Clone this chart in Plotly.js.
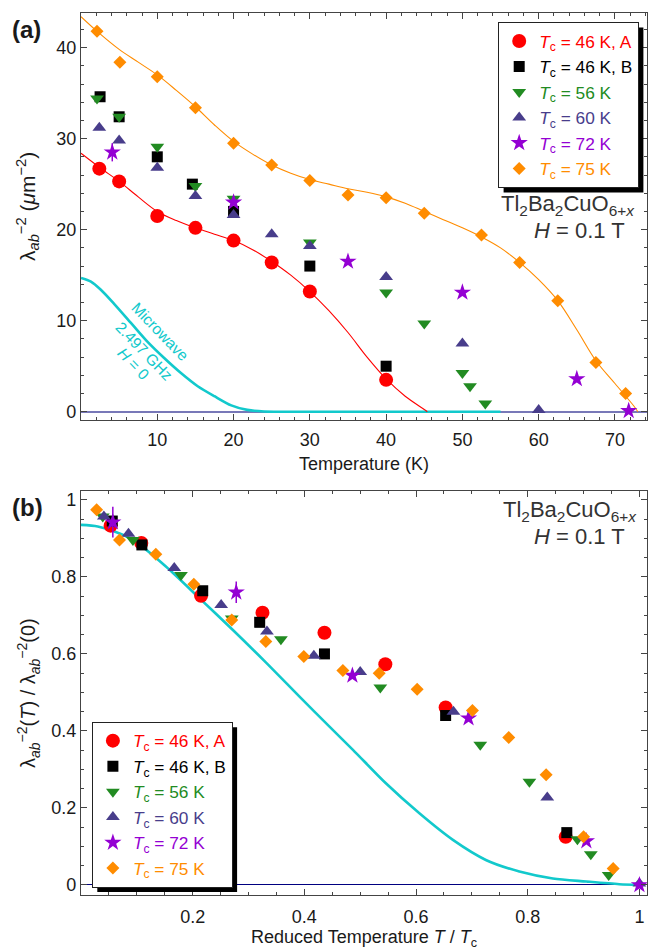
<!DOCTYPE html>
<html>
<head>
<meta charset="utf-8">
<script src="https://cdn.plot.ly/plotly-3.0.1.min.js"></script>
<style>html,body{margin:0;padding:0;background:#fff}#chart{width:648px;height:950px}</style>
</head>
<body>
<div id="chart"></div>
<script>
// ---------------- DATA: panel (a)  lambda^-2 (um^-2) vs T (K) ----------------
const seriesNames = ["T_c = 46 K, A", "T_c = 46 K, B", "T_c = 56 K", "T_c = 60 K", "T_c = 72 K", "T_c = 75 K"];
const A_T_46A = [2.4, 5, 10, 15, 20, 25, 30, 40];
const A_L_46A = [26.7, 25.3, 21.5, 20.2, 18.8, 16.4, 13.2, 3.5];
const A_T_46B = [2.5, 5, 10, 14.6, 20, 30, 40];
const A_L_46B = [34.6, 32.4, 28.0, 25.0, 22.0, 16.0, 5.0];
const A_T_56 = [2.1, 5, 10, 15, 20, 30, 40, 45, 50, 51, 53];
const A_L_56 = [34.4, 32.4, 29.1, 24.8, 23.4, 18.6, 13.1, 9.7, 4.25, 2.8, 0.9];
const A_T_60 = [2.4, 5, 10, 15, 20, 25, 30, 40, 50, 60];
const A_L_60 = [31.2, 29.8, 26.8, 23.7, 21.6, 19.5, 18.2, 14.8, 7.5, 0.2];
const A_T_72 = [4.1, 20, 35, 50, 65, 71.8];
const A_L_72 = [28.5, 23.0, 16.5, 13.1, 3.6, 0.1];
const A_E_72 = [1.0, 0, 0, 0, 0, 0];
const A_T_75 = [2.1, 5.1, 10, 15, 20, 25, 30, 35, 40, 45, 52.5, 57.5, 62.5, 67.5, 71.4];
const A_L_75 = [41.8, 38.4, 36.8, 33.4, 29.5, 27.1, 25.4, 23.8, 23.5, 21.8, 19.4, 16.4, 12.2, 5.4, 2.0];
// fit curves
const A_FIT46_T = [0, 2.5, 5, 7.5, 10, 12.5, 15, 17.5, 20, 22.5, 25, 27.5, 30, 32.5, 35, 37.5, 40, 42.5, 45, 45.4];
const A_FIT46_L = [28.4, 26.8, 25.3, 23.6, 22.0, 21.0, 20.2, 19.5, 18.8, 17.8, 16.5, 15.0, 13.2, 11.1, 8.7, 6.0, 3.6, 1.7, 0.25, 0];
const A_FIT75_T = [0, 2.5, 5, 7.5, 10, 12.5, 15, 17.5, 20, 22.5, 25, 27.5, 30, 32.5, 35, 37.5, 40, 42.5, 45, 47.5, 50, 52.5, 55, 57.5, 60, 62.5, 65, 67.5, 70, 72.5, 73];
const A_FIT75_L = [43.4, 41.5, 39.8, 38.4, 37.0, 35.3, 33.5, 31.5, 29.7, 28.3, 27.1, 26.2, 25.5, 25.0, 24.5, 24.1, 23.6, 22.9, 22.0, 21.1, 20.2, 19.2, 18.0, 16.4, 14.5, 12.2, 9.0, 5.6, 3.1, 0.6, 0];
// microwave (2.497 GHz, H = 0)
const A_MW_T = [0, 1.3, 2.6, 4.4, 6.6, 8.7, 10.9, 13.1, 15.3, 17.5, 19.7, 21.8, 24, 30, 40, 55];
const A_MW_L = [14.7, 14.3, 13.4, 11.8, 9.7, 7.7, 5.9, 4.25, 2.8, 1.7, 0.7, 0.2, 0.03, 0, 0, 0];

// ---------------- DATA: panel (b)  normalized vs T/Tc ----------------
const B_t_46A = [0.053, 0.108, 0.215, 0.325, 0.436, 0.545, 0.653, 0.868];
const B_v_46A = [0.933, 0.888, 0.751, 0.707, 0.655, 0.573, 0.461, 0.125];
const B_t_46B = [0.056, 0.109, 0.218, 0.32, 0.436, 0.653, 0.87];
const B_v_46B = [0.945, 0.883, 0.764, 0.682, 0.6, 0.44, 0.136];
const B_t_56 = [0.039, 0.093, 0.179, 0.27, 0.358, 0.536, 0.715, 0.803, 0.889, 0.913, 0.945];
const B_v_56 = [0.957, 0.896, 0.805, 0.692, 0.638, 0.513, 0.364, 0.268, 0.119, 0.08, 0.026];
const B_t_60 = [0.041, 0.085, 0.167, 0.251, 0.333, 0.417, 0.5, 0.667, 0.835, 1.0];
const B_v_60 = [0.957, 0.912, 0.823, 0.727, 0.658, 0.595, 0.553, 0.45, 0.227, 0.004];
const B_t_72 = [0.057, 0.278, 0.486, 0.694, 0.905, 1.0];
const B_v_72 = [0.942, 0.76, 0.544, 0.433, 0.114, 0.0];
const B_e_72 = [0.04, 0.028, 0, 0, 0, 0];
const B_t_75 = [0.028, 0.069, 0.134, 0.202, 0.27, 0.331, 0.399, 0.469, 0.534, 0.602, 0.701, 0.766, 0.833, 0.9, 0.953];
const B_v_75 = [0.974, 0.896, 0.859, 0.781, 0.688, 0.632, 0.593, 0.557, 0.55, 0.508, 0.453, 0.383, 0.286, 0.125, 0.043];
const B_MW_t = [0, 0.03, 0.06, 0.093, 0.152, 0.212, 0.272, 0.331, 0.394, 0.445, 0.487, 0.546, 0.606, 0.666, 0.725, 0.785, 0.845, 0.905, 0.964, 1.0];
const B_MW_v = [0.935, 0.931, 0.918, 0.896, 0.827, 0.745, 0.662, 0.578, 0.485, 0.411, 0.351, 0.264, 0.186, 0.117, 0.065, 0.035, 0.017, 0.009, 0.002, 0.0];

// tick labels
const A_xticks = [10, 20, 30, 40, 50, 60, 70];
const A_yticks = [0, 10, 20, 30, 40];
const B_xticks = [0.2, 0.4, 0.6, 0.8, 1];
const B_xtext = ["0.2", "0.4", "0.6", "0.8", "1"];
const B_yticks = [0, 0.2, 0.4, 0.6, 0.8, 1];
const B_ytext = ["0", "0.2", "0.4", "0.6", "0.8", "1"];

// ---------------- styling ----------------
const FONT = "Liberation Sans, Arial, Helvetica, sans-serif";
const COL = {red: "#ff0000", black: "#000000", green: "#228b22", blue: "#483d8b", violet: "#9400d3", orange: "#ff8c00", cyan: "#12c9cc"};
const sty = [
  {c: COL.red, sym: "circle", s: 14},
  {c: COL.black, sym: "square", s: 11},
  {c: COL.green, sym: "triangle-down", s: 12},
  {c: COL.blue, sym: "triangle-up", s: 12},
  {c: COL.violet, sym: "star", s: 13},
  {c: COL.orange, sym: "diamond", s: 10}
];
function lname(i) {
  const txt = seriesNames[i].replace("T_c", "<i>T</i><sub>c</sub>");
  return "<span style='color:" + sty[i].c + "'>" + txt + "</span>";
}

const aSeries = [[A_T_46A, A_L_46A], [A_T_46B, A_L_46B], [A_T_56, A_L_56], [A_T_60, A_L_60], [A_T_72, A_L_72], [A_T_75, A_L_75]];
const bSeries = [[B_t_46A, B_v_46A], [B_t_46B, B_v_46B], [B_t_56, B_v_56], [B_t_60, B_v_60], [B_t_72, B_v_72], [B_t_75, B_v_75]];

const traces = [];
// panel (a) lines
traces.push({x: A_MW_T, y: A_MW_L, xaxis: "x", yaxis: "y", mode: "lines", line: {color: COL.cyan, width: 2.6, shape: "spline", smoothing: 0.8}, showlegend: false, hoverinfo: "skip"});
traces.push({x: A_FIT46_T, y: A_FIT46_L, xaxis: "x", yaxis: "y", mode: "lines", line: {color: COL.red, width: 1.1, shape: "spline", smoothing: 1}, showlegend: false, hoverinfo: "skip"});
traces.push({x: A_FIT75_T, y: A_FIT75_L, xaxis: "x", yaxis: "y", mode: "lines", line: {color: COL.orange, width: 1.1, shape: "spline", smoothing: 1}, showlegend: false, hoverinfo: "skip"});
// panel (b) line
traces.push({x: B_MW_t, y: B_MW_v, xaxis: "x2", yaxis: "y2", mode: "lines", line: {color: COL.cyan, width: 2.6, shape: "spline", smoothing: 0.8}, showlegend: false, hoverinfo: "skip"});

aSeries.forEach((s, i) => {
  const t = {x: s[0], y: s[1], xaxis: "x", yaxis: "y", mode: "markers", name: lname(i), legend: "legend",
    marker: {color: sty[i].c, symbol: sty[i].sym, size: sty[i].s, line: {width: 0}}, hoverinfo: "skip"};
  if (i === 4) t.error_y = {type: "data", array: A_E_72, color: COL.violet, thickness: 1.5, width: 0};
  traces.push(t);
});
bSeries.forEach((s, i) => {
  const t = {x: s[0], y: s[1], xaxis: "x2", yaxis: "y2", mode: "markers", name: lname(i), legend: "legend2",
    marker: {color: sty[i].c, symbol: sty[i].sym, size: sty[i].s, line: {width: 0}}, hoverinfo: "skip"};
  if (i === 4) t.error_y = {type: "data", array: B_e_72, color: COL.violet, thickness: 1.5, width: 0};
  traces.push(t);
});

// ---------------- layout geometry ----------------
const W = 648, H = 950, ML = 81, MR = 1, MT = 13, MB = 55;
const PW = W - ML - MR, PH = H - MT - MB;
const px = x => (x - ML) / PW;
const py = y => (H - MB - y) / PH;

const axCommon = {
  ticks: "inside", ticklen: 6, tickwidth: 1, tickcolor: "#444",
  showline: true, linecolor: "#444", linewidth: 1.2, mirror: "ticks",
  showgrid: false, zeroline: false, fixedrange: true,
  tickfont: {family: FONT, size: 18, color: "#1a1a1a"}
};
function ax(extra, minorDtick) {
  return Object.assign({}, axCommon, {minor: {ticks: "inside", ticklen: 3, tickcolor: "#444", tickwidth: 1, tick0: 0, dtick: minorDtick, showgrid: false}}, extra);
}
const xTitleFont = {family: FONT, size: 18, color: "#1a1a1a"};
const yTitleFont = {family: FONT, size: 20, color: "#1a1a1a"};
const legFont = {family: FONT, size: 17.3, color: "#1a1a1a"};

function ann(text, x, y, opts) {
  return Object.assign({text: text, x: px(x), y: py(y), xref: "paper", yref: "paper", xanchor: "center", yanchor: "middle", showarrow: false}, opts);
}

const layout = {
  width: W, height: H,
  margin: {l: ML, r: MR, t: MT, b: MB},
  paper_bgcolor: "#fff", plot_bgcolor: "#fff",
  font: {family: FONT, color: "#1a1a1a"},
  xaxis: ax({domain: [0, 1], anchor: "y", range: [0, 74.2], tickmode: "array", tickvals: A_xticks, ticklabelstandoff: 3,
    title: {text: "Temperature (K)", font: xTitleFont, standoff: 8}}, 2),
  yaxis: ax({domain: [py(420), 1], anchor: "x", range: [-0.91, 43.8], tickmode: "array", tickvals: A_yticks,
    zeroline: true, zerolinecolor: "#7878b8", zerolinewidth: 2}, 2),
  xaxis2: ax({domain: [0, 1], anchor: "y2", range: [0, 1.0136], tickmode: "array", tickvals: B_xticks, ticktext: B_xtext, ticklabelstandoff: 5,
    title: {text: "Reduced Temperature <i>T</i> / <i>T</i><sub>c</sub>", font: xTitleFont, standoff: 6}}, 0.05),
  yaxis2: ax({domain: [0, py(491)], anchor: "x2", range: [-0.026, 1.023], tickmode: "array", tickvals: B_yticks, ticktext: B_ytext,
    zeroline: true, zerolinecolor: "#000080", zerolinewidth: 1}, 0.05),
  legend: {x: px(639), xanchor: "right", y: py(22), yanchor: "top", bgcolor: "#fff", bordercolor: "#222", borderwidth: 1.2,
    font: legFont, tracegroupgap: 0, itemclick: false, itemdoubleclick: false},
  legend2: {x: px(91.7), xanchor: "left", y: py(721.7), yanchor: "top", bgcolor: "#fff", bordercolor: "#222", borderwidth: 1.2,
    font: legFont, tracegroupgap: 0, itemclick: false, itemdoubleclick: false},
  annotations: [
    // y-axis titles
    ann("λ<sub><i>ab</i></sub><sup>−2</sup> (<i>μ</i>m<sup>−2</sup>)", 28, 207, {textangle: -90, font: {family: FONT, size: 21, color: "#1a1a1a"}}),
    ann("λ<sub><i>ab</i></sub><sup>−2</sup>(<i>T</i>) / λ<sub><i>ab</i></sub><sup>−2</sup>(0)", 28, 693, {textangle: -90, font: yTitleFont}),
    // panel labels
    ann("<b>(a)</b>", 10, 30, {xanchor: "left", font: {family: FONT, size: 24, color: "#1a1a1a"}}),
    ann("<b>(b)</b>", 10, 507, {xanchor: "left", font: {family: FONT, size: 24, color: "#1a1a1a"}}),
    // sample info
    ann("Tl<sub>2</sub>Ba<sub>2</sub>CuO<sub>6+<i>x</i></sub>", 637, 205, {xanchor: "right", font: {family: FONT, size: 22, color: "#333"}}),
    ann("<i>H</i> = 0.1 T", 627, 230, {xanchor: "right", font: {family: FONT, size: 22, color: "#333"}}),
    ann("Tl<sub>2</sub>Ba<sub>2</sub>CuO<sub>6+<i>x</i></sub>", 639, 511, {xanchor: "right", font: {family: FONT, size: 22, color: "#333"}}),
    ann("<i>H</i> = 0.1 T", 627, 536, {xanchor: "right", font: {family: FONT, size: 22, color: "#333"}}),
    // microwave curve label
    ann("Microwave", 160, 331.7, {textangle: 46, font: {family: FONT, size: 15.5, color: COL.cyan}}),
    ann("2.497 GHz", 143.5, 350.8, {textangle: 46, font: {family: FONT, size: 15.5, color: COL.cyan}}),
    ann("<i>H</i> = 0", 133.5, 363.3, {textangle: 46, font: {family: FONT, size: 15.5, color: COL.cyan}})
  ],
  showlegend: true
};

const gd = document.getElementById("chart");
Plotly.newPlot(gd, traces, layout, {displayModeBar: false, staticPlot: true}).then(() => {
  // drop shadows behind the two legends, sized from the drawn legend boxes
  const root = gd.getBoundingClientRect();
  const shapes = [];
  ["legend", "legend2"].forEach(id => {
    const bg = gd.querySelector("g." + id + " rect.bg");
    if (!bg) return;
    const r = bg.getBoundingClientRect();
    const x0 = r.left - root.left + 5, x1 = r.right - root.left + 5;
    const y0 = r.top - root.top + 5, y1 = r.bottom - root.top + 5;
    shapes.push({type: "rect", xref: "paper", yref: "paper", x0: px(x0), x1: px(x1), y0: py(y1), y1: py(y0),
      fillcolor: "#000", line: {width: 0}, layer: "above"});
  });
  return Plotly.relayout(gd, {shapes: shapes});
});
</script>
</body>
</html>
